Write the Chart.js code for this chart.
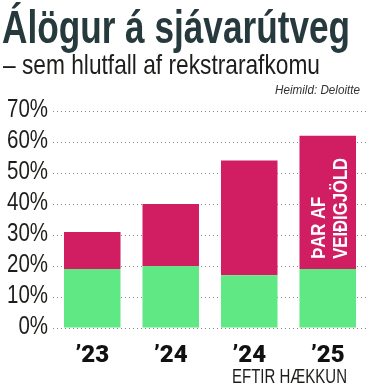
<!DOCTYPE html>
<html>
<head>
<meta charset="utf-8">
<script src="https://cdn.jsdelivr.net/npm/chart.js@4.4.0/dist/chart.umd.min.js"></script>
<style>
  html, body { margin: 0; padding: 0; background: #fff; }
  #chart { display: block; }
</style>
</head>
<body>
<canvas id="chart" width="370" height="386"></canvas>
<script>
// data
const years = ['’23', '’24', '’24', '’25'];
const baseShare = [19, 20, 17, 19];     // green part
const feeShare = [12, 20, 37, 43];      // pink part (þar af veiðigjöld)
const yTicks = [0, 10, 20, 30, 40, 50, 60, 70];

const SANS = '"Liberation Sans", Arial, sans-serif';

// draw text squeezed horizontally so it fills a given width (the original uses a condensed face)
function fitText(ctx, text, x, y, font, width, align) {
    ctx.save();
    ctx.font = font;
    const w = ctx.measureText(text).width;
    const k = width / w;
    ctx.translate(x, y);
    ctx.scale(k, 1);
    ctx.textAlign = align || 'left';
    ctx.fillText(text, 0, 0);
    ctx.restore();
    return k;
}

// titles, y labels, label inside last bar and note under the axis
const annotations = {
    id: 'annotations',
    afterDraw(chart) {
        const ctx = chart.ctx;
        const x = chart.scales.x;
        const y = chart.scales.y;

        ctx.save();
        ctx.textBaseline = 'alphabetic';
        ctx.fillStyle = '#263a3d';
        fitText(ctx, 'Álögur á sjávarútveg', 2, 43, 'bold 46px ' + SANS, 348);
        ctx.fillStyle = '#1d1d1b';
        fitText(ctx, '– sem hlutfall af rekstrarafkomu', 3, 74, '28px ' + SANS, 317);
        ctx.fillStyle = '#333';
        fitText(ctx, 'Heimild: Deloitte', 360, 94, 'italic 12.5px ' + SANS, 85, 'right');

        // y tick labels
        ctx.font = '25px ' + SANS;
        const k = 41 / ctx.measureText('70%').width;
        ctx.fillStyle = '#1d1d1b';
        ctx.textBaseline = 'middle';
        ctx.textAlign = 'right';
        yTicks.forEach(v => {
            ctx.save();
            ctx.translate(48, y.getPixelForValue(v) - 1);
            ctx.scale(k, 1);
            ctx.fillText(v + '%', 0, 0);
            ctx.restore();
        });
        ctx.restore();

        // rotated white label in the last bar
        const bar = chart.getDatasetMeta(1).data[3];
        ctx.save();
        ctx.translate(bar.x + 2, y.getPixelForValue(22.3));
        ctx.rotate(-Math.PI / 2);
        ctx.fillStyle = '#fff';
        ctx.textBaseline = 'middle';
        ctx.font = 'bold 21px ' + SANS;
        const kb = 101 / ctx.measureText('VEIÐIGJÖLD').width;
        ctx.scale(kb, 1);
        ctx.fillText('ÞAR AF', 0, -11);
        ctx.fillText('VEIÐIGJÖLD', 0, 11);
        ctx.restore();

        // note under the last two categories
        ctx.save();
        ctx.fillStyle = '#1d1d1b';
        ctx.textBaseline = 'alphabetic';
        const mid = (x.getPixelForValue(2) + x.getPixelForValue(3)) / 2;
        fitText(ctx, 'EFTIR HÆKKUN', mid + 1, 383, '21px ' + SANS, 115, 'center');
        ctx.restore();
    }
};

new Chart(document.getElementById('chart'), {
    type: 'bar',
    data: {
        labels: years,
        datasets: [
            { data: baseShare, backgroundColor: '#5fe883', barPercentage: 0.72, categoryPercentage: 1 },
            { data: feeShare, backgroundColor: '#d11d62', barPercentage: 0.72, categoryPercentage: 1 }
        ]
    },
    options: {
        responsive: false,
        animation: false,
        layout: { padding: { top: 111, right: 3, left: 0, bottom: 0 } },
        plugins: { legend: { display: false }, tooltip: { enabled: false } },
        scales: {
            x: {
                stacked: true,
                grid: { display: false },
                border: { display: false },
                ticks: {
                    padding: 6,
                    color: '#111',
                    font: { family: 'Roboto, "DejaVu Sans", sans-serif', size: 24, weight: 900 }
                },
                afterFit(scale) { scale.height = 58; }
            },
            y: {
                stacked: true,
                min: 0,
                max: 70,
                afterBuildTicks(scale) { scale.ticks = yTicks.map(v => ({ value: v })); },
                grid: { color: '#8c8c8c', lineWidth: 1, drawTicks: false },
                border: { display: false, dash: [1, 3] },
                ticks: { display: false },
                afterFit(scale) { scale.width = 53; }
            }
        }
    },
    plugins: [annotations]
});
</script>
</body>
</html>
